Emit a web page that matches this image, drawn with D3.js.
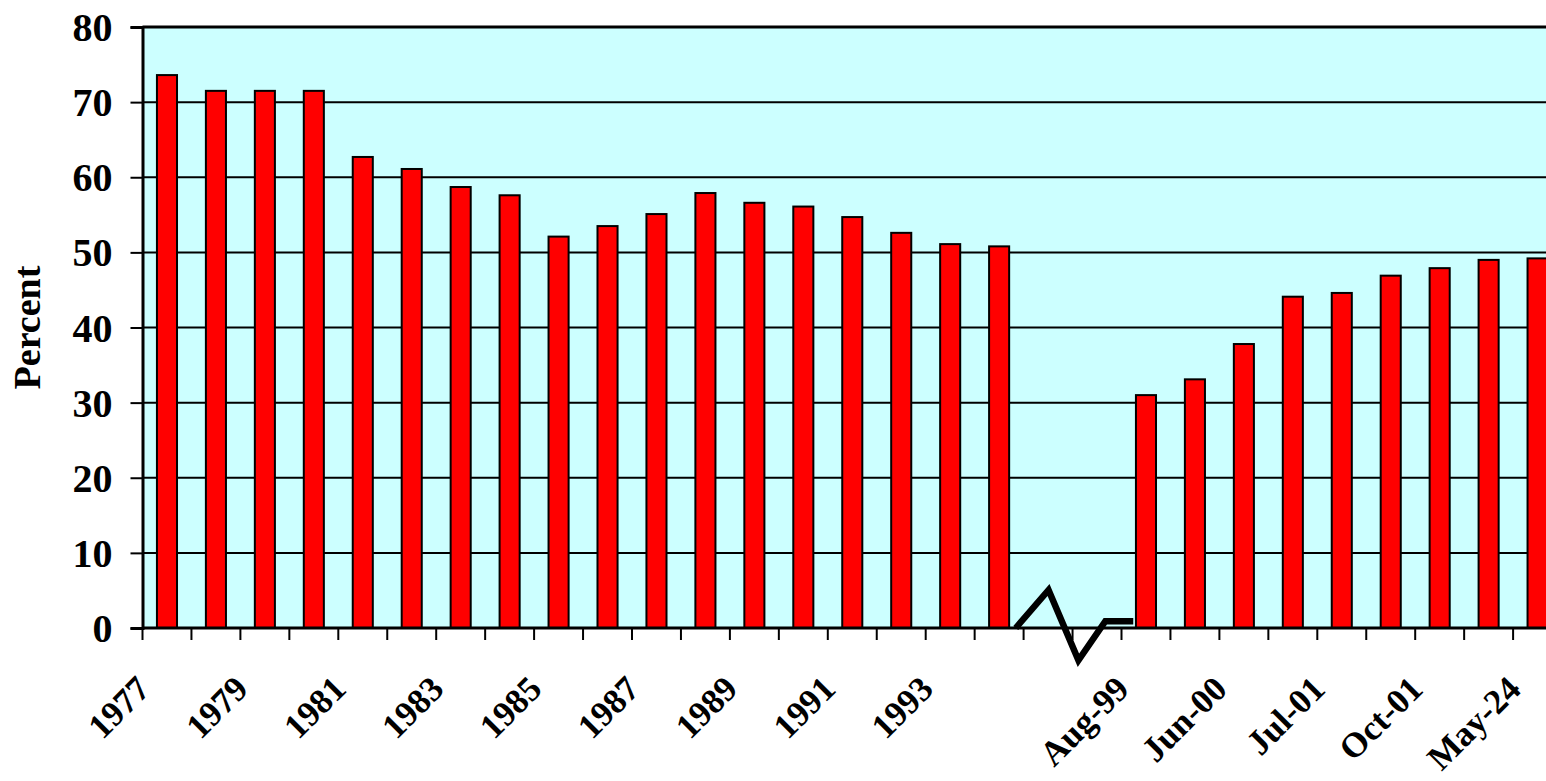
<!DOCTYPE html>
<html>
<head>
<meta charset="utf-8">
<script src="https://cdn.jsdelivr.net/npm/d3@7/dist/d3.min.js"></script>
<style>
  html, body { margin: 0; padding: 0; background: #ffffff; overflow: hidden; }
  svg { display: block; }
  text { font-family: "Liberation Serif", "Times New Roman", serif; font-weight: bold; fill: #000; }
</style>
</head>
<body>
<svg id="chart" width="1546" height="781"></svg>
<script>
// Category labels (null = unlabeled slot, including the two break slots)
const categories = [
  "1977", "1978", "1979", "1980", "1981", "1982", "1983", "1984", "1985",
  "1986", "1987", "1988", "1989", "1990", "1991", "1992", "1993", "1994",
  null, null,
  "Aug-99", null, "Jun-00", null, "Jul-01", null, "Oct-01", null, "May-24"
];

// Percent values per category (null = no bar)
const values = [
  73.6, 71.5, 71.5, 71.5, 62.7, 61.1, 58.7, 57.6, 52.1,
  53.5, 55.1, 57.9, 56.6, 56.1, 54.7, 52.6, 51.1, 50.8,
  null, null,
  31.0, 33.1, 37.8, 44.1, 44.6, 46.9, 47.9, 49.0, 49.2
];

// Labels shown on the category axis (every second slot)
const tickLabels = ["1977", "1979", "1981", "1983", "1985", "1987", "1989", "1991", "1993",
                    "Aug-99", "Jun-00", "Jul-01", "Oct-01", "May-24"];

const yTicks = [0, 10, 20, 30, 40, 50, 60, 70, 80];

// Axis-break zigzag, in category units (slot index) and percent
const breakPos = [17.84, 18.51, 19.12, 19.67, 20.24];
const breakVal = [0, 5.06, -4.3, 0.9, 0.9];

const svg = d3.select("#chart");

const plotLeft = 142.5, plotTop = 27, plotBottom = 628;
const step = 48.95;
const plotRight = plotLeft + categories.length * step;

const idx = d3.range(categories.length);
const x = d3.scaleBand().domain(idx).range([plotLeft, plotRight])
  .paddingInner(0.59).paddingOuter(0.295);
const xUnits = d3.scaleLinear().domain([0, categories.length]).range([plotLeft, plotRight]);
const y = d3.scaleLinear().domain([0, 80]).range([plotBottom, plotTop]);

// Plot background
svg.append("rect")
  .attr("x", plotLeft).attr("y", plotTop)
  .attr("width", plotRight - plotLeft).attr("height", plotBottom - plotTop)
  .attr("fill", "#CCFFFF");

// Horizontal gridlines
svg.append("g").selectAll("line")
  .data(yTicks.filter(t => t > 0 && t < 80))
  .join("line")
  .attr("x1", plotLeft).attr("x2", plotRight)
  .attr("y1", d => y(d)).attr("y2", d => y(d))
  .attr("stroke", "#000").attr("stroke-width", 2);

// Bars
svg.append("g").selectAll("rect")
  .data(idx.filter(i => values[i] != null))
  .join("rect")
  .attr("x", i => x(i))
  .attr("y", i => y(values[i]))
  .attr("width", x.bandwidth())
  .attr("height", i => y(0) - y(values[i]))
  .attr("fill", "#FF0000")
  .attr("stroke", "#000")
  .attr("stroke-width", 2);

// Plot frame: top border
svg.append("line")
  .attr("x1", plotLeft).attr("x2", plotRight)
  .attr("y1", plotTop).attr("y2", plotTop)
  .attr("stroke", "#000").attr("stroke-width", 3);

// Y axis
const yAxis = d3.axisLeft(y).tickValues(yTicks).tickSize(12).tickPadding(18)
  .tickFormat(d3.format("d"));
const gy = svg.append("g").attr("transform", `translate(${plotLeft},0)`).call(yAxis);
gy.select(".domain").attr("stroke", "#000").attr("stroke-width", 3);
gy.selectAll(".tick line").attr("stroke", "#000").attr("stroke-width", 2);
gy.selectAll(".tick text")
  .attr("font-size", 40)
  .attr("dy", "0.34em")
  .attr("font-family", "Liberation Serif, Times New Roman, serif")
  .attr("font-weight", "bold")
  .attr("fill", "#000");

// X axis line
svg.append("line")
  .attr("x1", plotLeft).attr("x2", plotRight)
  .attr("y1", plotBottom).attr("y2", plotBottom)
  .attr("stroke", "#000").attr("stroke-width", 3);

// X ticks at slot boundaries
svg.append("g").selectAll("line")
  .data(d3.range(categories.length + 1))
  .join("line")
  .attr("x1", d => xUnits(d)).attr("x2", d => xUnits(d))
  .attr("y1", plotBottom).attr("y2", plotBottom + 12)
  .attr("stroke", "#000").attr("stroke-width", 2);

// X labels, rotated 45 degrees
svg.append("g").selectAll("text")
  .data(idx.filter(i => categories[i] && tickLabels.includes(categories[i])))
  .join("text")
  .attr("transform", i => `translate(${x(i) + x.bandwidth() / 2 - 15},${plotBottom + 63}) rotate(-45)`)
  .attr("text-anchor", "end")
  .attr("font-size", 35)
  .text(i => categories[i]);

// Axis break zigzag
const zig = d3.line().x(d => xUnits(d[0])).y(d => y(d[1]));
svg.append("path")
  .datum(breakPos.map((p, i) => [p, breakVal[i]]))
  .attr("d", zig)
  .attr("fill", "none")
  .attr("stroke", "#000")
  .attr("stroke-width", 6.5)
  .attr("stroke-linejoin", "miter");

// Y axis title
svg.append("text")
  .attr("transform", `translate(40,${(plotTop + plotBottom) / 2}) rotate(-90)`)
  .attr("text-anchor", "middle")
  .attr("font-size", 38)
  .text("Percent");
</script>
</body>
</html>
